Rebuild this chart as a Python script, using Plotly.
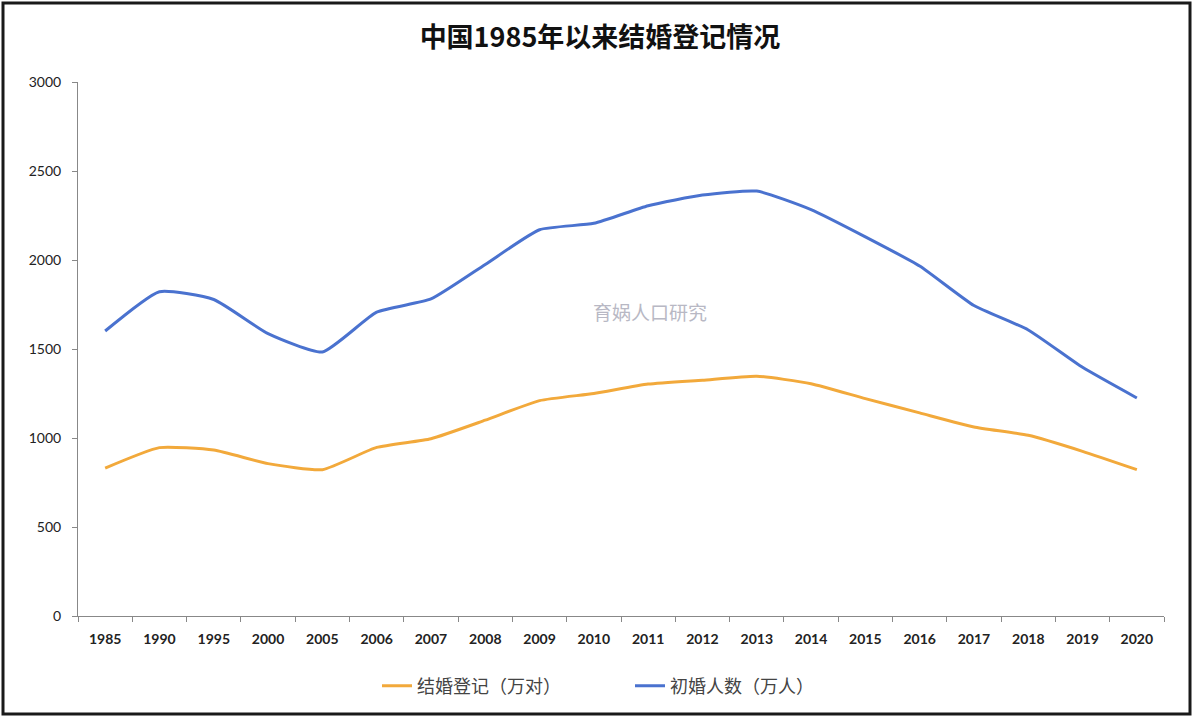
import plotly.graph_objects as go

years = ["1985", "1990", "1995", "2000", "2005", "2006", "2007", "2008", "2009", "2010",
         "2011", "2012", "2013", "2014", "2015", "2016", "2017", "2018", "2019", "2020"]
marriage_reg = [831, 946, 932, 856, 822, 947, 996, 1100, 1210, 1250,
                1303, 1325, 1347, 1305, 1221, 1141, 1062, 1015, 925, 822]
first_marriage = [1601, 1822, 1778, 1586, 1483, 1707, 1781, 1975, 2170, 2206,
                  2305, 2365, 2387, 2283, 2130, 1966, 1744, 1607, 1397, 1225]
series_names = ["结婚登记（万对）", "初婚人数（万人）"]
y_ticks = [0, 500, 1000, 1500, 2000, 2500, 3000]

fig = go.Figure()
fig.add_trace(go.Scatter(x=years, y=marriage_reg, name=series_names[0], mode="lines",
                         line=dict(color="#F2A93B", width=3, shape="spline", smoothing=0.5)))
fig.add_trace(go.Scatter(x=years, y=first_marriage, name=series_names[1], mode="lines",
                         line=dict(color="#4A72CF", width=3, shape="spline", smoothing=0.5)))

L, R, T, B = 78, 36, 82, 104
W, H = 1200, 720
pw, ph = W - L - R, H - T - B

def px(x):
    return (x - L) / pw

def py(y):
    return (H - B - y) / ph

fig.update_layout(
    width=W, height=H,
    margin=dict(l=L, r=R, t=T, b=B),
    paper_bgcolor="white", plot_bgcolor="white",
    title=dict(text="<b>中国1985年以来结婚登记情况</b>", x=0.5, xanchor="center",
               y=1 - 38 / H, yanchor="middle",
               font=dict(family="Noto Sans CJK SC", size=27, color="#111")),
    font=dict(family="Lato, Noto Sans CJK SC", color="#222"),
    showlegend=True,
    legend=dict(orientation="h", x=px(630), xanchor="center", y=py(686), yanchor="middle",
                font=dict(family="Noto Sans CJK SC", size=18, color="#444"),
                entrywidth=208, entrywidthmode="pixels", traceorder="normal"),
    xaxis=dict(type="category", range=[-0.5, len(years) - 0.5], showgrid=False,
               showline=True, linecolor="#888", linewidth=1,
               ticks="outside", tickson="boundaries", ticklen=5, tickcolor="#888",
               ticklabelstandoff=10,
               tickfont=dict(family="Lato", size=14, color="#222", weight="bold")),
    yaxis=dict(range=[0, 3000], tickvals=y_ticks, showgrid=False, zeroline=False,
               showline=True, linecolor="#888", linewidth=1,
               ticks="outside", ticklen=5, tickcolor="#888",
               ticklabelstandoff=8,
               tickfont=dict(family="Lato", size=14, color="#222")),
)

# outer frame
fig.add_shape(type="rect", xref="paper", yref="paper",
              x0=px(3), x1=px(1190), y0=py(714), y1=py(3),
              line=dict(color="#1a1a1a", width=3), fillcolor="rgba(0,0,0,0)", layer="above")

# watermark
fig.add_annotation(xref="paper", yref="paper", x=px(650), y=py(311), text="育娲人口研究",
                   showarrow=False, font=dict(family="Noto Sans CJK SC", size=19, color="#b8b8c4"))

fig.write_html("out.html", config={"displayModeBar": False},
               post_script="document.body.style.margin='0';")
